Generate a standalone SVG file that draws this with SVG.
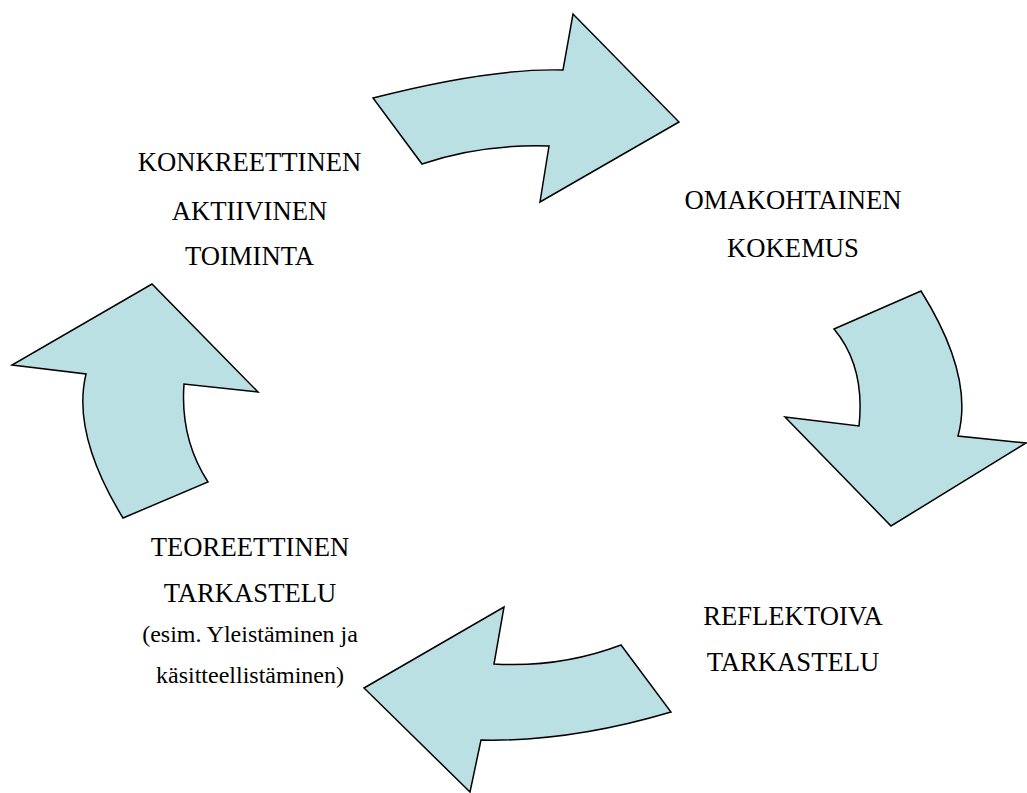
<svg xmlns="http://www.w3.org/2000/svg" width="1027" height="793" viewBox="0 0 1027 793">
<style>
.arrow{fill:#BAE0E3;stroke:#000;stroke-width:1.5;stroke-linejoin:miter}
.big{font-family:"Liberation Serif","Times New Roman",serif;font-size:26.67px;fill:#000;text-anchor:middle}
.small{font-family:"Liberation Serif","Times New Roman",serif;font-size:24px;fill:#000;text-anchor:middle}
</style>
<rect width="1027" height="793" fill="#fff"/>
<g id="connectors">
<path id="arrow-top" class="arrow" d="M373,98 Q490,68 563,70 L573,14 L679,122 L540,202 L549,146 Q480,144 422,164 Z"/>
<path id="arrow-right" class="arrow" d="M834,329 L921,291 Q974.5,376.5 958,436 L1026,443 L891,526 L785,417 L859,426 Q865.5,366.5 834,329 Z"/>
<path id="arrow-bottom" class="arrow" d="M671,712 Q570,742 481,740 L470,792 L364,688 L504,607 L494,664 Q560,668 621,645 Z"/>
<path id="arrow-left" class="arrow" d="M123,518 Q71.5,434 86,374 L12,365 L152,284 L258,392 L184,384 Q180,439 208,482 Z"/>
</g>
<g id="node-konkreettinen">
<text class="big" x="249.5" y="171">KONKREETTINEN</text>
<text class="big" x="249.5" y="219.5">AKTIIVINEN</text>
<text class="big" x="249.5" y="264.5">TOIMINTA</text>
</g>
<g id="node-omakohtainen">
<text class="big" x="793" y="209">OMAKOHTAINEN</text>
<text class="big" x="793" y="257">KOKEMUS</text>
</g>
<g id="node-reflektoiva">
<text class="big" x="793" y="625">REFLEKTOIVA</text>
<text class="big" x="793" y="671">TARKASTELU</text>
</g>
<g id="node-teoreettinen">
<text class="big" x="250" y="556">TEOREETTINEN</text>
<text class="big" x="250" y="602">TARKASTELU</text>
<text class="small" x="250" y="642">(esim. Yleistäminen ja</text>
<text class="small" x="250" y="683">käsitteellistäminen)</text>
</g>
</svg>
